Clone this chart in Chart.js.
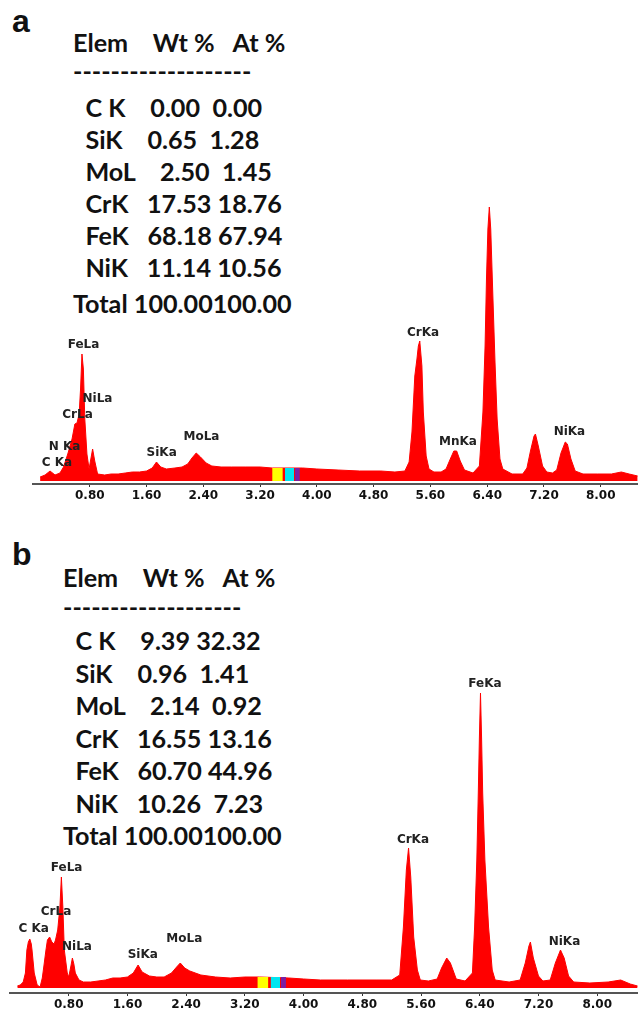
<!DOCTYPE html>
<html>
<head>
<meta charset="utf-8">
<script src="https://cdn.jsdelivr.net/npm/chart.js@4.4.1/dist/chart.umd.min.js"></script>
<style>
    html, body { margin: 0; padding: 0; background: #fff; }
    body { width: 638px; height: 1013px; position: relative; overflow: hidden; }
    .panel-label { position: absolute; left: 12px; font: bold 32px "Liberation Sans", Arial, sans-serif; line-height: 32px; color: #111; }
    .tline { position: absolute; font-family: Lato, sans-serif; font-weight: 700; line-height: 30px; white-space: pre; color: #111; }
    canvas { position: absolute; left: 0; }
</style>
</head>
<body>
<div class="panel-label" style="top:5px">a</div>
<div class="panel-label" style="top:538px">b</div>
<div id="tableA"></div>
<div id="tableB"></div>
<canvas id="chartA" width="638" height="324" style="top:180px"></canvas>
<canvas id="chartB" width="638" height="353" style="top:660px"></canvas>
<script>
// EDS spectra: energy (keV) and counts
const energyA = [0.10, 0.17, 0.24, 0.31, 0.38, 0.43, 0.49, 0.55, 0.59, 0.62, 0.65, 0.67, 0.69, 0.71, 0.73, 0.76, 0.79, 0.81, 0.84, 0.87, 0.91,
    1.01, 1.10, 1.20, 1.30, 1.40, 1.50, 1.60, 1.68, 1.74, 1.80, 1.88, 2.00, 2.10, 2.18, 2.24, 2.30, 2.36, 2.44, 2.52, 2.65, 2.80, 3.00, 3.20, 3.37, 3.80,
    4.00, 4.30, 4.60, 4.90, 5.10, 5.24, 5.30, 5.34, 5.38, 5.41, 5.43, 5.45, 5.48, 5.50, 5.54, 5.58, 5.65, 5.75, 5.82, 5.88, 5.93, 5.97, 6.02, 6.08,
    6.20, 6.29, 6.34, 6.37, 6.39, 6.41, 6.43, 6.45, 6.48, 6.51, 6.54, 6.58, 6.62, 6.75, 6.90, 6.96, 7.01, 7.06, 7.08, 7.12, 7.18, 7.24, 7.32,
    7.38, 7.44, 7.50, 7.53, 7.58, 7.64, 7.75, 7.95, 8.15, 8.29, 8.40, 8.52];
const countsA = [40, 60, 100, 60, 80, 140, 270, 420, 570, 580, 670, 920, 1270, 1120, 620, 270, 120, 200, 320, 200, 70,
    60, 70, 70, 80, 90, 90, 100, 130, 190, 140, 120, 130, 140, 170, 230, 280, 240, 180, 150, 140, 140, 140, 140, 130, 130,
    120, 110, 100, 100, 90, 100, 190, 490, 1050, 1220, 1350, 1400, 1150, 690, 250, 120, 90, 90, 120, 220, 300, 300, 200, 110,
    80, 150, 690, 1350, 2020, 2520, 2740, 2520, 1850, 1190, 620, 220, 120, 70, 70, 130, 300, 450, 470, 350, 150, 90, 80,
    110, 280, 390, 370, 220, 100, 70, 70, 70, 90, 70, 50];

const energyB = [0.10, 0.14, 0.18, 0.21, 0.23, 0.25, 0.27, 0.29, 0.30, 0.33, 0.37, 0.41, 0.44, 0.46, 0.49, 0.51, 0.54, 0.57, 0.60, 0.62, 0.65,
    0.68, 0.70, 0.72, 0.74, 0.78, 0.80, 0.83, 0.85, 0.87, 0.89, 0.94, 1.00, 1.10, 1.20, 1.30, 1.40, 1.50, 1.60, 1.68, 1.745, 1.80, 1.90, 2.00,
    2.10, 2.20, 2.27, 2.32, 2.38, 2.45, 2.60, 2.80, 3.00, 3.20, 3.40, 3.80, 4.00, 4.23, 4.60, 5.00, 5.20, 5.31, 5.36, 5.40, 5.43, 5.46, 5.50,
    5.55, 5.59, 5.70, 5.82, 5.88, 5.95, 6.00, 6.08, 6.20, 6.30, 6.33, 6.36, 6.38, 6.395, 6.41, 6.425, 6.44, 6.47, 6.52, 6.57, 6.61, 6.80,
    6.95, 7.02, 7.07, 7.09, 7.13, 7.20, 7.26, 7.36, 7.43, 7.50, 7.55, 7.61, 7.68, 7.90, 8.15, 8.32, 8.45, 8.55];
const countsB = [20, 30, 60, 150, 380, 460, 490, 440, 380, 150, 30, 10, 100, 210, 380, 480, 510, 460, 440, 480, 580,
    810, 1110, 810, 380, 150, 110, 220, 300, 240, 150, 80, 60, 60, 70, 80, 100, 100, 110, 150, 230, 160, 120, 110,
    110, 150, 210, 250, 200, 170, 130, 110, 100, 110, 110, 100, 90, 80, 80, 80, 80, 130, 610, 1180, 1400, 1110, 510,
    180, 80, 70, 90, 200, 300, 250, 90, 70, 150, 610, 1280, 1950, 2500, 2950, 2500, 1950, 1280, 610, 180, 80, 60,
    80, 250, 420, 460, 300, 120, 70, 80, 250, 380, 300, 120, 60, 50, 60, 80, 40, 20];

const tickKev = [0.8, 1.6, 2.4, 3.2, 4.0, 4.8, 5.6, 6.4, 7.2, 8.0];

// ROI markers under the spectrum
const roiKev = [[3.37, 3.52], [3.55, 3.68], [3.69, 3.76]];
const roiColors = ['#ffff00', '#00e5f0', '#7b1fa2'];
const roiCountsA = 130;
const roiCountsB = 110;

// peak labels: name, energy, counts where the label sits
const peakNamesA = ['FeLa', 'NiLa', 'CrLa', 'N Ka', 'C Ka', 'SiKa', 'MoLa', 'CrKa', 'MnKa', 'NiKa'];
const peakKevA = [0.712, 0.909, 0.627, 0.444, 0.338, 1.813, 2.374, 5.495, 5.988, 7.559];
const peakCountsA = [1360, 820, 660, 340, 180, 283, 443, 1483, 393, 487];

const peakNamesB = ['FeLa', 'CrLa', 'C Ka', 'NiLa', 'SiKa', 'MoLa', 'CrKa', 'NiKa', 'FeKa'];
const peakKevB = [0.772, 0.627, 0.323, 0.913, 1.809, 2.375, 5.490, 7.554, 6.471];
const peakCountsB = [1197, 763, 587, 407, 330, 487, 1480, 463, 3040];

// quantification tables
const elems = ['C K', 'SiK', 'MoL', 'CrK', 'FeK', 'NiK'];
const wtA = ['0.00', '0.65', '2.50', '17.53', '68.18', '11.14'];
const atA = ['0.00', '1.28', '1.45', '18.76', '67.94', '10.56'];
const wtB = ['9.39', '0.96', '2.14', '16.55', '60.70', '10.26'];
const atB = ['32.32', '1.41', '0.92', '13.16', '44.96', '7.23'];
const totalWt = '100.00';
const totalAt = '100.00';

// size the table font so the numbers and spaces come out like the original
const mctx = document.createElement('canvas').getContext('2d');
mctx.font = '700 24px Lato';
const numW = mctx.measureText('100.00').width;
const tableFontSize = 24 * 79 / numW;
mctx.font = '700 ' + tableFontSize + 'px Lato';
const wordGap = 6.2 - mctx.measureText(' ').width;

function addLine(parent, text, left, centerY) {
    const d = document.createElement('div');
    d.className = 'tline';
    d.textContent = text;
    d.style.fontSize = tableFontSize + 'px';
    d.style.wordSpacing = wordGap + 'px';
    d.style.left = left + 'px';
    d.style.top = (centerY - 15) + 'px';
    parent.appendChild(d);
}

function buildTable(id, left, headY, dashY, rowY, rowGap, totalY, wt, at) {
    const el = document.getElementById(id);
    addLine(el, 'Elem    Wt %   At %', left, headY);
    addLine(el, '-'.repeat(19), left, dashY);
    elems.forEach((e, i) => {
        addLine(el, '  ' + e + '  ' + wt[i].padStart(6) + at[i].padStart(6), left, rowY + i * rowGap);
    });
    addLine(el, 'Total ' + totalWt.padStart(6) + totalAt.padStart(6), left, totalY);
}

buildTable('tableA', 73, 42, 70, 107, 32, 303, wtA, atA);
buildTable('tableB', 63, 577, 606, 640, 32.5, 835, wtB, atB);

const peakLabelPlugin = {
    id: 'peakLabels',
    afterDatasetsDraw(chart, args, opts) {
        const { ctx, scales } = chart;
        ctx.save();
        ctx.font = 'bold 12px "DejaVu Sans"';
        ctx.fillStyle = '#222';
        ctx.textAlign = 'center';
        ctx.textBaseline = 'middle';
        opts.names.forEach((n, i) => {
            ctx.fillText(n, scales.x.getPixelForValue(opts.kev[i]), scales.y.getPixelForValue(opts.counts[i]));
        });
        ctx.restore();
    }
};

function makeSpectrum(id, energy, counts, roiCounts, labels, cfg) {
    const roiSets = roiKev.map((r, i) => ({
        data: [{ x: r[0], y: roiCounts }, { x: r[1], y: roiCounts }],
        borderWidth: 0,
        pointRadius: 0,
        backgroundColor: roiColors[i],
        fill: 'origin',
        order: 1
    }));

    return new Chart(document.getElementById(id), {
        type: 'line',
        data: {
            datasets: [
                ...roiSets,
                {
                    data: energy.map((e, i) => ({ x: e, y: counts[i] })),
                    borderColor: '#ff0000',
                    backgroundColor: '#ff0000',
                    borderWidth: 1,
                    pointRadius: 0,
                    tension: 0,
                    fill: 'origin',
                    order: 2
                }
            ]
        },
        options: {
            responsive: false,
            animation: false,
            events: [],
            layout: { padding: { left: cfg.left, right: 0, top: 0, bottom: 0 } },
            plugins: {
                legend: { display: false },
                tooltip: { enabled: false },
                peakLabels: labels
            },
            scales: {
                x: {
                    type: 'linear',
                    min: 0,
                    max: cfg.maxKev,
                    afterBuildTicks: s => { s.ticks = tickKev.map(v => ({ value: v })); },
                    afterFit: s => { s.height = 20; },
                    ticks: {
                        callback: v => v.toFixed(2),
                        font: { family: 'DejaVu Sans', size: 12, weight: 'bold' },
                        color: '#111',
                        padding: 2,
                        maxRotation: 0,
                        autoSkip: false
                    },
                    grid: { drawOnChartArea: false, tickLength: 3, color: '#333' },
                    border: { color: '#555', width: 2 }
                },
                y: { display: false, min: cfg.minCounts, max: cfg.maxCounts }
            }
        },
        plugins: [peakLabelPlugin]
    });
}

makeSpectrum('chartA', energyA, countsA, roiCountsA,
    { names: peakNamesA, kev: peakKevA, counts: peakCountsA },
    { left: 33, maxKev: 8.525, minCounts: -30, maxCounts: 3010 });

makeSpectrum('chartB', energyB, countsB, roiCountsB,
    { names: peakNamesB, kev: peakKevB, counts: peakCountsB },
    { left: 10, maxKev: 8.556, minCounts: -50, maxCounts: 3280 });
</script>
</body>
</html>
